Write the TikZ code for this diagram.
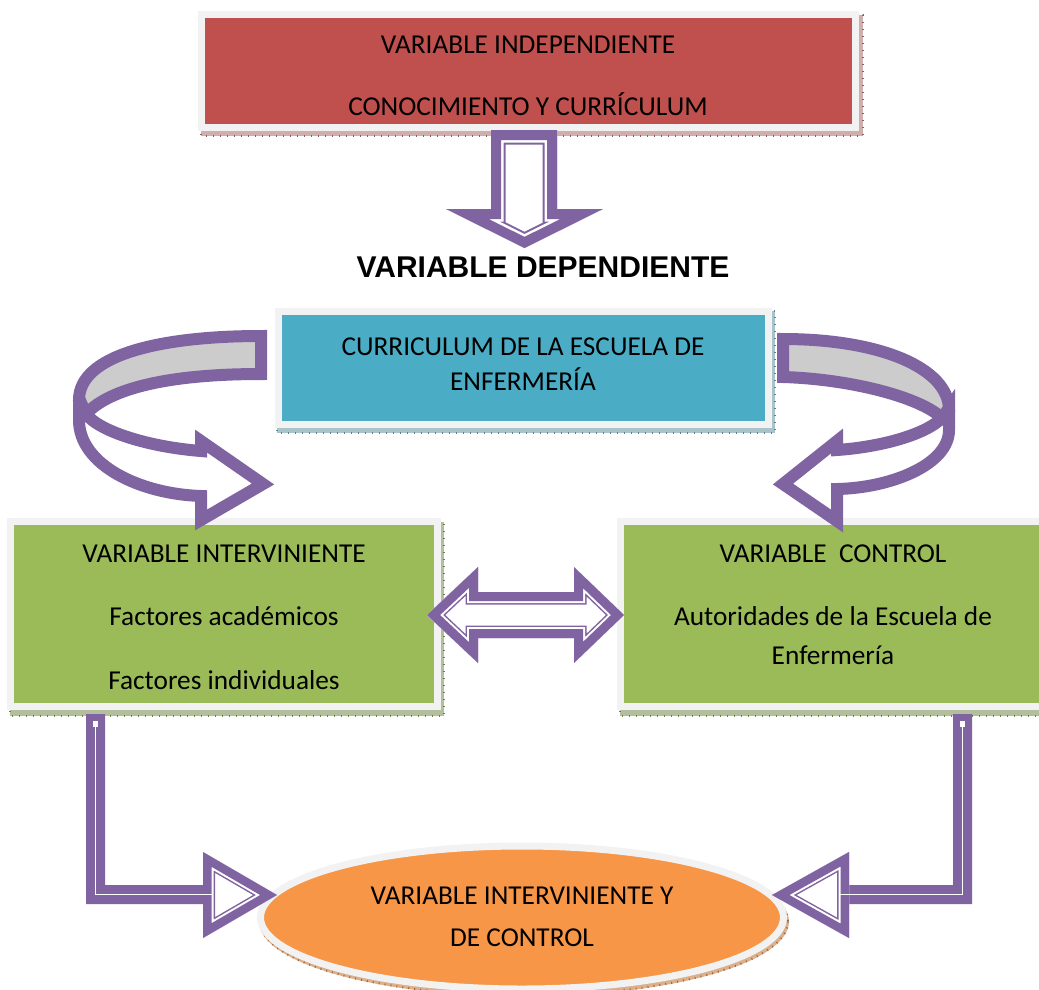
\documentclass[tikz,border=0pt]{standalone}
\usepackage{fontspec}
\setmainfont{Carlito}
\newfontfamily\arialfont{Liberation Sans}
\usetikzlibrary{shapes.geometric}
\definecolor{boxred}{HTML}{C0504D}
\definecolor{boxcyan}{HTML}{4BACC6}
\definecolor{boxgreen}{HTML}{9BBB59}
\definecolor{boxorange}{HTML}{F79646}
\definecolor{arrowpurple}{HTML}{8064A2}
\definecolor{framegrey}{HTML}{F2F2F2}
\definecolor{ribbongrey}{HTML}{CCCCCC}
\definecolor{shred}{HTML}{CFAEAE}
\definecolor{shredd}{HTML}{8E5E5E}
\definecolor{shcyan}{HTML}{A9C3CB}
\definecolor{shcyand}{HTML}{5A8090}
\definecolor{shgreen}{HTML}{B3BE9D}
\definecolor{shgreend}{HTML}{6B7F45}
\definecolor{shorange}{HTML}{DDB08C}
\definecolor{shoranged}{HTML}{A0653A}
\newcommand\hollowshape[4]{%
  \begin{scope}
    \clip #4;
    \fill[white] #4;
    \draw[arrowpurple, line width=2*#3, line join=miter, miter limit=20] #4;
    \draw[white, line width=2*#2, line join=miter, miter limit=20] #4;
    \draw[arrowpurple, line width=2*#1, line join=miter, miter limit=20] #4;
  \end{scope}}
\newcommand\hatchshadow[4]{%
  \fill[#1] #3 rectangle #4;
  \draw[#2, line width=2pt, dash pattern=on 1pt off 6pt] #3 rectangle #4;}
\begin{document}
\begin{tikzpicture}[x=1pt,y=-1pt,
  framebox/.style={draw=framegrey, line width=7pt, inner sep=0pt, outer sep=0pt},
  txt/.style={font=\fontsize{27.3}{32}\selectfont, anchor=base, inner sep=0pt},
  ribbon/.style={draw=arrowpurple, line width=12pt, line join=miter, miter limit=4}]
\useasboundingbox (0,0) rectangle (1039,989);
\fill[white] (0,0) rectangle (1039,989);

% shadows
\hatchshadow{shred}{shredd}{(201,15)}{(863,136)}
\hatchshadow{shcyan}{shcyand}{(277,311)}{(775,433)}
\hatchshadow{shgreen}{shgreend}{(10,522)}{(444,716)}
\hatchshadow{shgreen}{shgreend}{(620,522)}{(1054,716)}
\fill[shorange] (524,921.5) ellipse [x radius=265, y radius=75];
\draw[shoranged, line width=2pt, dash pattern=on 1pt off 5pt] (524,921.5) ellipse [x radius=264, y radius=74];

% boxes
\node[framebox, fill=boxred, minimum width=654.5pt, minimum height=113.5pt] (indep) at (528.25,70.75) {};
\node[framebox, fill=boxcyan, minimum width=490pt, minimum height=113.5pt] (curric) at (523,367.75) {};
\node[framebox, fill=boxgreen, minimum width=426.5pt, minimum height=185pt] (interv) at (223.75,614) {};
\node[framebox, fill=boxgreen, minimum width=426.5pt, minimum height=185pt] (control) at (833.75,614) {};
\node[framebox, ellipse, fill=boxorange, minimum width=523pt, minimum height=143pt] (result) at (522,917.5) {};

% texts
\node[txt] (t1) at (528,53) {VARIABLE INDEPENDIENTE};
\node[txt] (t2) at (528,115) {CONOCIMIENTO Y CURRÍCULUM};
\node[font=\arialfont\bfseries\fontsize{30}{36}\selectfont, anchor=base, inner sep=0pt] (dep) at (543,277) {VARIABLE DEPENDIENTE};
\node[txt] (t3) at (523,355) {CURRICULUM DE LA ESCUELA DE};
\node[txt] (t4) at (523,390) {ENFERMERÍA};
\node[txt] (t5) at (224,562) {VARIABLE INTERVINIENTE};
\node[txt] (t6) at (224,625) {Factores académicos};
\node[txt] (t7) at (224,689) {Factores individuales};
\node[txt] (t8) at (833,562) {VARIABLE\ \ CONTROL};
\node[txt] (t9) at (833,625) {Autoridades de la Escuela de};
\node[txt] (t10) at (833,664) {Enfermería};
\node[txt] (t11) at (522,904) {VARIABLE INTERVINIENTE Y};
\node[txt] (t12) at (522,946) {DE CONTROL};

% down arrow
\hollowshape{10}{12.5}{14.5}{(491,130) -- (557,130) -- (557,209) -- (603,209) -- (524.5,248) -- (446,209) -- (491,209) -- cycle}

% left ribbon
\filldraw[ribbon, fill=ribbongrey] (261,336) .. controls (160,336) and (79,355) .. (79,400) -- (86,414) .. controls (110,388) and (170,374) .. (261,374) -- cycle;
\filldraw[ribbon, fill=white] (79,398) -- (79,420) .. controls (79,465) and (140,494) .. (201,496) -- (201,520) -- (263,484) -- (201,441) -- (201,451) .. controls (150,447) and (100,432) .. (86,414) -- cycle;

% right ribbon
\filldraw[ribbon, fill=ribbongrey] (783,339) .. controls (880,339) and (949,368) .. (949,410) -- (942,418) .. controls (920,397) and (850,379) .. (783,377) -- cycle;
\filldraw[ribbon, fill=white] (949,408) -- (949,430) .. controls (949,465) and (890,488) .. (837,489) -- (837,521) -- (783,484) -- (837,441) -- (837,450) .. controls (880,447) and (925,435) .. (942,418) -- cycle;

% double arrow
\hollowshape{9}{11}{12.5}{(427,615) -- (478,567) -- (478,592) -- (574,592) -- (574,567) -- (624,615) -- (574,663) -- (574,638) -- (478,638) -- (478,663) -- cycle}

% bottom left L arrow
\fill[arrowpurple] (86,714) -- (105,714) -- (105,885) -- (206,885) -- (206,904) -- (86,904) -- cycle;
\hollowshape{8.5}{10.5}{12}{(203,852) -- (277,895) -- (203,938) -- cycle}
\draw[white, line width=1.2pt] (95.5,724) -- (95.5,894.5) -- (213,894.5);
\fill[white] (93,721) rectangle (98,727);

% bottom right L arrow
\fill[arrowpurple] (953,714) -- (972,714) -- (972,904) -- (846,904) -- (846,885) -- (953,885) -- cycle;
\hollowshape{8.5}{10.5}{12}{(849,852) -- (772,895) -- (849,938) -- cycle}
\draw[white, line width=1.2pt] (962.5,724) -- (962.5,894.5) -- (839,894.5);
\fill[white] (960,721) rectangle (965,727);
\end{tikzpicture}
\end{document}
